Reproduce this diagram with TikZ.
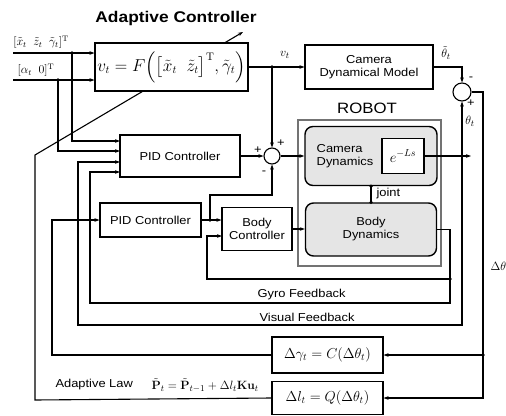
\documentclass[tikz,border=0pt]{standalone}
\usepackage{amsmath}
\usepackage[no-math]{fontspec}
\setmainfont[FakeStretch=1.12]{Liberation Sans}
\usetikzlibrary{arrows.meta}

\begin{document}
\begin{tikzpicture}[x=1pt,y=-1pt,
  >={Stealth[length=5pt,width=3.6pt]},
  line width=1.1pt,
  blk/.style={draw, fill=white, align=center, inner sep=0pt, font=\fontsize{11.5}{13}\selectfont},
  gblk/.style={blk, fill=black!10, rounded corners=8pt, line width=1.4pt},
  sumnode/.style={draw, circle, fill=white, inner sep=0pt},
  dot/.style={circle, fill=black, inner sep=0pt, minimum size=3.6pt},
  lab/.style={font=\fontsize{11.5}{13}\selectfont, inner sep=1pt},
  mth/.style={font=\fontsize{13}{15}\selectfont, inner sep=1pt},
  ]
\useasboundingbox (0,0) rectangle (506,415);

\coordinate (in1) at (13,53);
\coordinate (in2) at (13,80);
\coordinate (d1)  at (72,53);
\coordinate (d2)  at (58,80);
\coordinate (pA1) at (120,141);
\coordinate (pA2) at (120,151);
\coordinate (pA3) at (120,162);
\coordinate (pA4) at (120,172);
\coordinate (vD)  at (272,67);
\coordinate (bD)  at (210,220);
\coordinate (bU)  at (272,195);
\coordinate (thD) at (462,156);
\coordinate (thO) at (471,156);
\coordinate (visL) at (78,325);
\coordinate (gyR) at (450,303);
\coordinate (gyL) at (90,303);
\coordinate (fbD) at (450,279);
\coordinate (fbL) at (207,279);
\coordinate (bC2) at (222,236);
\coordinate (dD)  at (483,355);
\coordinate (dR)  at (483,398);
\coordinate (gL)  at (52,355);
\coordinate (lawB) at (35,400);
\coordinate (lawC) at (35,155);
\coordinate (lawT) at (243,32);

% lower blocks
\node[blk, minimum width=111pt, minimum height=36pt, font=\fontsize{14}{16}\selectfont] (dgam) at (327.5,355) {$\Delta\gamma_t = C(\Delta\theta_t)$};
\node[blk, minimum width=111pt, minimum height=33pt, font=\fontsize{14}{16}\selectfont] (dl) at (327.5,398) {$\Delta l_t = Q(\Delta\theta_t)$};

\draw[->] (dl.west) -- (lawB) -- (lawC) -- (lawT);

% controller blocks
\node[blk, minimum width=153pt, minimum height=48pt, font=\fontsize{16}{18}\selectfont] (adapt) at (171.5,67) {$v_t = F\Bigl(\bigl[\tilde{x}_t\;\;\tilde{z}_t\bigr]^{\mathrm{T}},\tilde{\gamma}_t\Bigr)$};
\node[blk, minimum width=128pt, minimum height=44pt] (cdm) at (369,67) {Camera\\Dynamical Model};
\node[blk, minimum width=120pt, minimum height=42pt] (pidA) at (180,156) {PID Controller};
\node[blk, minimum width=101pt, minimum height=34pt] (pidB) at (150.5,220) {PID Controller};
\node[blk, minimum width=70pt, minimum height=43pt] (bodyc) at (257,229) {Body\\Controller};

% robot
\node[draw=black!55, line width=1.3pt, minimum width=143pt, minimum height=146pt] (robot) at (369.5,193) {};
\node[font=\fontsize{15}{17}\selectfont] (robotlbl) at (367,108) {ROBOT};
\node[gblk, minimum width=132pt, minimum height=59pt] (camdyn) at (371,156) {};
\node[lab, align=left] (camlbl) at (345,156) {Camera\\Dynamics};
\node[blk, minimum width=42pt, minimum height=35pt, font=\fontsize{14}{16}\selectfont] (delay) at (403,156) {$e^{-Ls}$};
\node[gblk, minimum width=131pt, minimum height=53pt] (bodydyn) at (371,229.5) {Body\\Dynamics};

\node[sumnode, minimum size=16pt] (sumA) at (272,156) {};
\node[sumnode, minimum size=18pt] (sumB) at (462,92) {};

% inputs
\draw[->] (in1) -- (in1 -| adapt.west);
\draw[->] (in2) -- (in2 -| adapt.west);
\draw[->] (d1) |- (pA1);
\draw[->] (d2) |- (pA2);
\node[mth, font=\fontsize{12}{14}\selectfont] (in1lbl) at (41,42) {$[\tilde{x}_t\;\;\tilde{z}_t\;\;\tilde{\gamma}_t]^{\mathrm{T}}$};
\node[mth, font=\fontsize{12}{14}\selectfont] (in2lbl) at (36,70) {$[\alpha_t\;\;0]^{\mathrm{T}}$};

% forward path
\draw[->] (adapt.east) -- (cdm.west);
\draw[->] (vD) -- (sumA.north);
\draw[->] (pidA.east) -- (sumA.west);
\draw[->] (sumA.east) -- (camdyn.west);
\draw[->] (pidB.east) -- (pidB.east -| bodyc.west);
\draw[->] (bD) |- (bU) -- (sumA.south);
\draw[->] (bodyc.east) -- (bodyc.east -| bodydyn.west);
\draw[->] (delay.east) -- (thO);
\draw (camdyn.south) -- (bodydyn.north);

% feedback
\draw[->] (cdm.east) -| (sumB.north);
\draw[->] (thD) -- (sumB.south);
\draw[->] (thD) |- (visL) |- (pA3);
\draw[->] (bodydyn.east) -| (gyR) -- (gyL) |- (pA4);
\draw[->] (fbD) -- (fbL) |- (bC2);
\draw[->] (sumB.east) -| (dR) -- (dl.east);
\draw[->] (dD) -- (dgam.east);
\draw[->] (dgam.west) -- (gL) |- (pidB.west);

\foreach \p in {d1,d2,vD,bD,thD,fbD,dD,camdyn.south,bodydyn.north}
  \node[dot] at (\p) {};

% labels
\node[font=\bfseries\fontsize{15.5}{17}\selectfont] (title) at (176,18) {Adaptive Controller};
\node[mth] (vlbl) at (285,55) {$v_t$};
\node[mth] (thtlbl) at (446,53) {$\tilde{\theta}_t$};
\node[mth] (thlbl) at (470,121) {$\theta_t$};
\node[lab] (sB1) at (471,79) {-};
\node[lab] (sB2) at (471,103) {+};
\node[lab] (sA1) at (258,150) {+};
\node[lab] (sA2) at (281,143) {+};
\node[lab] (sA3) at (264,173) {-};
\node[lab, anchor=west] (jointlbl) at (375,194) {joint};
\node[lab, anchor=west] (gyrolbl) at (256,295) {Gyro Feedback};
\node[lab, anchor=west] (vislbl) at (258,317) {Visual Feedback};
\node[mth, anchor=west] (dthlbl) at (489,266) {$\Delta\theta$};
\node[lab, anchor=west] (lawlbl) at (54,385) {Adaptive Law};
\node[mth, anchor=west] (lawfml) at (150,385) {$\tilde{\mathbf{P}}_t = \tilde{\mathbf{P}}_{t-1} + \Delta l_t\mathbf{K}\mathbf{u}_t$};

%\draw[red] (0,0) grid[step=50] (506,415);
\end{tikzpicture}
\end{document}
